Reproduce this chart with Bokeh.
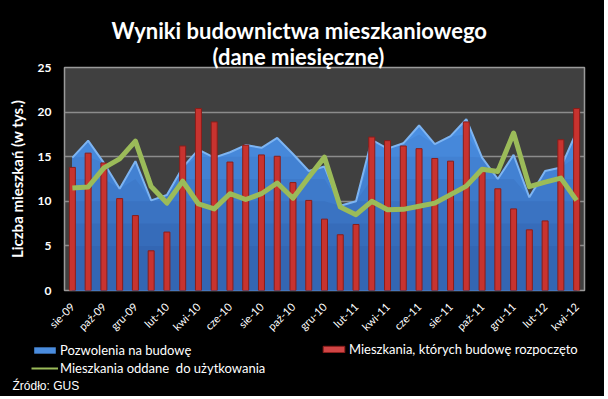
import numpy as np
from bokeh.plotting import figure
from bokeh.layouts import column
from bokeh.models import Range1d, FixedTicker, Label, Legend, LegendItem, Title
from bokeh.embed import file_html
from bokeh.resources import INLINE

months = ["sie-09", "wrz-09", "paź-09", "lis-09", "gru-09",
          "sty-10", "lut-10", "mar-10", "kwi-10", "maj-10", "cze-10", "lip-10",
          "sie-10", "wrz-10", "paź-10", "lis-10", "gru-10",
          "sty-11", "lut-11", "mar-11", "kwi-11", "maj-11", "cze-11", "lip-11",
          "sie-11", "wrz-11", "paź-11", "lis-11", "gru-11",
          "sty-12", "lut-12", "mar-12", "kwi-12"]

permits = [14.9, 16.8, 14.3, 11.4, 14.5, 10.1, 10.7, 13.8, 15.8, 14.9,
           15.5, 16.3, 16.0, 17.1, 15.3, 13.4, 13.9, 9.5, 10.0, 16.9,
           15.9, 16.5, 18.5, 16.4, 17.3, 19.2, 14.9, 12.5, 15.2, 10.45,
           13.4, 13.8, 17.8]
starts = [13.8, 15.4, 14.3, 10.3, 8.4, 4.45, 6.55, 16.2, 20.4, 18.9,
          14.4, 16.3, 15.2, 15.05, 12.1, 10.1, 8.0, 6.25, 7.4, 17.2,
          16.8, 16.2, 15.9, 14.8, 14.5, 18.9, 13.45, 11.4, 9.15, 6.8,
          7.8, 16.9, 20.4]
completed = [11.5, 11.6, 13.75, 14.75, 16.75, 11.65, 9.8, 12.25, 9.7, 9.15,
             10.85, 10.2, 10.85, 12.05, 10.35, 12.7, 14.95, 9.35, 8.5, 10.0,
             9.05, 9.1, 9.45, 9.8, 10.75, 11.7, 13.6, 13.35, 17.65, 11.65,
             12.15, 12.6, 10.1]

y_ticks = [0, 5, 10, 15, 20, 25]
series_names = ["Pozwolenia na budowę",
                "Mieszkania, których budowę rozpoczęto",
                "Mieszkania oddane  do użytkowania"]
title_lines = ["Wyniki budownictwa mieszkaniowego", "(dane miesięczne)"]
source_text = "Źródło: GUS"

W = 604
x = list(range(len(months)))

# ---------- main chart ----------
p = figure(width=W, height=341, output_backend="svg", toolbar_location=None,
           x_range=Range1d(-0.5, len(months) - 0.5), y_range=Range1d(0, 25),
           background_fill_color="#404040", border_fill_color="black",
           min_border_left=64, min_border_right=20, min_border_top=67,
           min_border_bottom=51, outline_line_color="#9a9a9a",
           outline_line_width=1.5, frame_align=False)

for txt, so, off in [(title_lines[1], -5, 148), (title_lines[0], 0, 47)]:
    p.add_layout(Title(text=txt, align="left", standoff=so, offset=off,
                       text_color="white", text_font="Lato",
                       text_font_style="bold", text_font_size="22px"), "above")

pv = np.array(permits)
shades = ["#4A8FE2", "#4688DA", "#4281D2", "#3E7ACA", "#3A73C2", "#366CBA", "#3366B3"]
caps = [None, 17.5, 15, 12.5, 10, 7.5, 5]
for col, cap in zip(shades, caps):
    top = pv if cap is None else np.minimum(pv, cap)
    p.varea(x=x, y1=0, y2=top, fill_color=col)
p.line(x=x, y=permits, line_color="#7DB4F2", line_width=2)

p.vbar(x=x, top=starts, width=0.38, fill_color="#C8332F", line_color="#8A1D1A",
       line_width=1)
p.line(x=x, y=completed, line_color="#9BBB59", line_width=5, line_join="round")

for ax in (p.xaxis, p.yaxis):
    ax.axis_line_color = None
    ax.major_tick_line_color = None
    ax.minor_tick_line_color = None
    ax.major_tick_out = 0
    ax.major_tick_in = 0
    ax.minor_tick_out = 0
    ax.minor_tick_in = 0
    ax.major_label_text_color = "white"
    ax.major_label_text_font = "Lato"

p.yaxis.ticker = FixedTicker(ticks=y_ticks)
p.ygrid.ticker = FixedTicker(ticks=y_ticks)
p.ygrid.grid_line_color = "#8c8c8c"
p.ygrid.grid_line_width = 1.5
p.xgrid.grid_line_color = None
p.yaxis.major_label_standoff = 13
p.yaxis.major_label_text_font_style = "bold"
p.yaxis.major_label_text_font_size = "12px"
p.yaxis.axis_label = "Liczba mieszkań (w tys.)"
p.yaxis.axis_label_text_color = "white"
p.yaxis.axis_label_text_font = "Lato"
p.yaxis.axis_label_text_font_style = "bold"
p.yaxis.axis_label_text_font_size = "15px"
p.yaxis.axis_label_standoff = 9

p.xaxis.ticker = FixedTicker(ticks=x[::2])
p.xaxis.major_label_overrides = {i: months[i] for i in x[::2]}
p.xaxis.major_label_orientation = 0.785
p.xaxis.major_label_standoff = 14
p.xaxis.major_label_text_font_size = "11px"

# ---------- footer with legend ----------
foot = figure(width=W, height=55, output_backend="svg", toolbar_location=None,
              x_range=Range1d(100, 200), y_range=Range1d(100, 200),
              x_axis_location=None, y_axis_location=None,
              background_fill_color="black", border_fill_color="black",
              min_border=0, outline_line_color=None, frame_align=False)
foot.grid.visible = False
# legend proxies (their data lies outside the footer's visible range)
r_area = foot.varea(x=x, y1=0, y2=permits, fill_color="#4A8CDD")
r_bar = foot.vbar(x=x, top=starts, width=0.38, fill_color="#D04545",
                  line_color="#8A1D1A")
r_line = foot.line(x=x, y=completed, line_color="#9BBB59", line_width=2)

lg_common = dict(border_line_color=None, background_fill_alpha=0, padding=0,
                 margin=0, spacing=2, glyph_width=27, glyph_height=8,
                 label_height=16, label_standoff=2, label_text_color="white",
                 label_text_font="Lato", label_text_font_size="13px")
leg1 = Legend(items=[LegendItem(label=series_names[0], renderers=[r_area]),
                     LegendItem(label=series_names[2], renderers=[r_line])],
              location=(31, 20), **lg_common)
leg2 = Legend(items=[LegendItem(label=series_names[1], renderers=[r_bar])],
              location=(320, 39), **lg_common)
foot.add_layout(leg1, "center")
foot.add_layout(leg2, "center")
foot.add_layout(Label(x=12, y=11, x_units="screen", y_units="screen",
                      text=source_text, text_align="left",
                      text_baseline="middle", text_color="white",
                      text_font="Liberation Sans", text_font_size="12px"))

layout = column(p, foot, spacing=0, styles={"background-color": "black"})
open("out.html", "w").write(file_html(layout, INLINE))
